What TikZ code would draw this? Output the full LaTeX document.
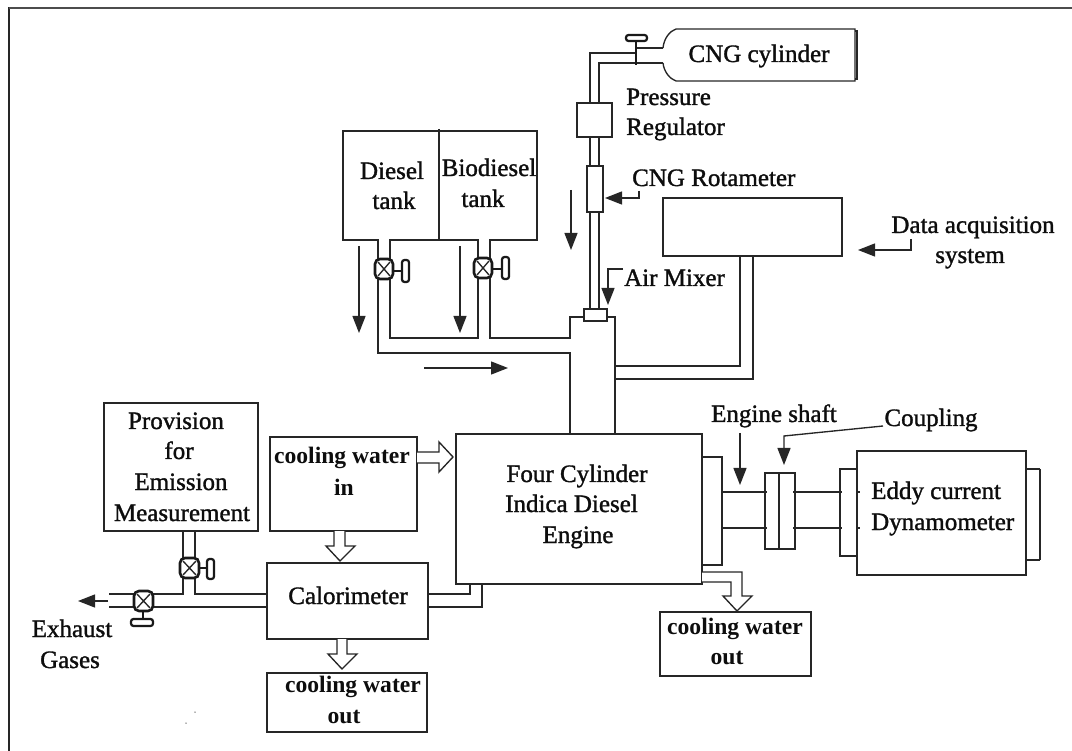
\documentclass[tikz,border=0pt]{standalone}
\usepackage{fontspec}
\setmainfont{Liberation Serif}
\newfontfamily\lblfont{Liberation Serif}[FakeBold=1.3]
\usetikzlibrary{arrows.meta}
\tikzset{
  x=1pt,y=-1pt,
  ln/.style={draw=black!85,line width=1.35pt},
  box/.style={ln,fill=white},
  lbl/.style={font=\lblfont\fontsize{25}{25}\selectfont,anchor=base,inner sep=0pt,text=black!95},
  lbll/.style={lbl,anchor=base west},
  blbl/.style={font=\bfseries\fontsize{23.6}{24}\selectfont,anchor=base,inner sep=0pt,text=black!95},
  arr/.style={ln,-{Triangle[length=17pt,width=13pt]}},
  vlv/.style={draw=black!90,line width=2.6pt,fill=white,rounded corners=5pt},
  hnd/.style={draw=black!90,line width=2.2pt,fill=white,rounded corners=2.5pt},
  stem/.style={draw=black!90,line width=2pt},
  hollow/.style={ln,fill=white,line join=miter},
  speck/.style={fill=black!60,draw=none,circle,inner sep=0pt,minimum size=1.5pt},
}
\begin{document}
\begin{tikzpicture}
\useasboundingbox (0,0) rectangle (1072,751);
% frame
\coordinate (fb) at (9,751); \coordinate (ftl) at (9,8); \coordinate (ftr) at (1072,8);
\draw[ln] (fb) -- (ftl) -- (ftr);
\draw[draw=black!70,line width=2pt] (ftl) -- (ftr);

% CNG cylinder and pipes
\draw[ln] (663,48) .. controls (664,38) and (670,31) .. (676,29) -- (855,29) -- (855,81) -- (676,81) .. controls (670,79) and (664,72) .. (663,63);
\draw[ln] (855,31) -- (857,31) -- (857,79) -- (855,79);
\node[lbl] (cng) at (759,62) {CNG cylinder};
\draw[ln] (663,48) -- (636,48);
\draw[ln] (636,53) -- (590,53) -- (590,103);
\draw[ln] (663,63) -- (599,63) -- (599,103);
\draw[stem] (636,40) -- (636,65);
\draw[hnd] (626,35) rectangle (647,41);
\node[box,minimum width=35pt,minimum height=34pt,inner sep=0pt] (reg) at (594.5,120) {};
\draw[ln] (590,137) -- (590,166) (599,137) -- (599,166);
\node[box,minimum width=16pt,minimum height=46pt,inner sep=0pt] (rot) at (595,189) {};
\draw[ln] (590,212) -- (590,309) (599,212) -- (599,309);
\node[lbll] (pr) at (626,105) {Pressure};
\node[lbll] (rg) at (626,135) {Regulator};
\node[lbll] (rt) at (632,186) {CNG Rotameter};
\coordinate (a1) at (639,191); \coordinate (a1e) at (605,198);
\draw[arr] (a1) |- (a1e);
\coordinate (a2) at (571,190); \coordinate (a2e) at (571,250);
\draw[arr] (a2) -- (a2e);

% mixer
\node[box,minimum width=23pt,minimum height=12pt,inner sep=0pt] (mix) at (595.5,315) {};
\node[lbll] (am) at (624,286) {Air Mixer};
\coordinate (a3) at (623,269); \coordinate (a3e) at (608,305);
\draw[arr] (a3) -| (a3e);

% data box
\node[box,minimum width=179pt,minimum height=58pt,inner sep=0pt] (data) at (752.5,227) {};
\node[lbl] (d1) at (973,233) {Data acquisition};
\node[lbl] (d2) at (970,263) {system};
\coordinate (a4) at (911,239); \coordinate (a4e) at (858,250);
\draw[arr] (a4) |- (a4e);
\draw[ln] (740,256) -- (740,366) -- (615,366);
\draw[ln] (753,256) -- (753,379) -- (615,379);

% tanks
\draw[ln] (343,131) rectangle (537,240);
\draw[ln] (439,129) -- (439,240);
\node[lbl] (t1) at (392,179) {Diesel};
\node[lbl] (t2) at (394,209) {tank};
\node[lbl] (t3) at (489,176) {Biodiesel};
\node[lbl] (t4) at (483,207) {tank};
\coordinate (a5) at (359,246); \coordinate (a5e) at (359,333);
\coordinate (a6) at (460,246); \coordinate (a6e) at (460,333);
\coordinate (a7) at (424,368); \coordinate (a7e) at (508,368);
\draw[arr] (a5) -- (a5e);
\draw[arr] (a6) -- (a6e);
\draw[arr] (a7) -- (a7e);

% fuel lines
\draw[white,line width=1.8pt] (379,240) -- (389,240) (479,240) -- (489,240);
\draw[ln] (378,240) -- (378,353) -- (570,353) -- (570,434);
\draw[ln] (390,240) -- (390,338) -- (478,338) -- (478,240);
\draw[ln] (490,240) -- (490,338) -- (570,338) -- (570,317) -- (584,317);
\draw[ln] (607,317) -- (615,317) -- (615,434);

% fuel valves
\draw[vlv] (375,259) rectangle (393,279);
\draw[ln] (375,259) ++(3,3) -- ++(12,14) (393,259) ++(-3,3) -- ++(-12,14);
\draw[stem] (393,271) -- (402,271);
\draw[hnd] (402,260) rectangle (409,282);
\draw[vlv] (474,258) rectangle (492,278);
\draw[ln] (474,258) ++(3,3) -- ++(12,14) (492,258) ++(-3,3) -- ++(-12,14);
\draw[stem] (492,269) -- (502,269);
\draw[hnd] (502,257) rectangle (509,279);

% engine
\node[box,minimum width=246pt,minimum height=150pt,inner sep=0pt] (eng) at (579,509) {};
\node[lbl] (e1) at (577,482) {Four Cylinder};
\node[lbll] (e2) at (505,512) {Indica Diesel};
\node[lbl] (e3) at (578,543) {Engine};
\draw[ln] (702,457) -- (722,457) -- (722,565) -- (702,565);

% shaft, coupling
\node[box,minimum width=30pt,minimum height=76pt,inner sep=0pt] (cpl) at (780,511) {};
\draw[ln] (779,473) -- (779,549);
\draw[ln] (722,492) -- (767,492) (722,528) -- (767,528);
\draw[ln] (793,492) -- (842,492) (793,528) -- (842,528);
\node[lbl] (es) at (774,422) {Engine shaft};
\node[lbl] (cp) at (931,426) {Coupling};
\coordinate (a8) at (740,433); \coordinate (a8e) at (740,485);
\draw[arr] (a8) -- (a8e);
\coordinate (a9) at (883,426); \coordinate (a9m) at (784,436); \coordinate (a9e) at (784,465);
\draw[arr] (a9) -- (a9m) -- (a9e);

% dynamometer
\draw[ln] (857,469) -- (840,469) -- (840,556) -- (857,556);
\draw[ln] (1026,469) -- (1040,469) (1026,560) -- (1040,560);
\draw[ln] (1040,469) -- (1040,560);
\node[box,minimum width=169pt,minimum height=124pt,inner sep=0pt] (dyn) at (941.5,513) {};
\draw[ln] (857,492) -- (860,492) (857,528) -- (860,528);
\node[lbll] (dy1) at (871,499) {Eddy current};
\node[lbll] (dy2) at (871,530) {Dynamometer};

% cooling water out right
\draw[hollow] (702,572) -- (742,572) -- (742,596) -- (752,596) -- (737,611) -- (723,596) -- (731,596) -- (731,582) -- (702,582);
\node[box,minimum width=151pt,minimum height=64pt,inner sep=0pt] (cwr) at (735.5,644) {};
\node[blbl] (cw1) at (735,634) {cooling water};
\node[blbl] (cw2) at (727,664) {out};

% cooling in
\node[box,minimum width=147pt,minimum height=94pt,inner sep=0pt] (cin) at (343.5,484) {};
\node[blbl] (ci1) at (342,464) {cooling water};
\node[blbl] (ci2) at (344,495) {in};
\draw[hollow] (417,452) -- (439,452) -- (439,442) -- (453,457) -- (439,472) -- (439,463) -- (417,463);
\draw[hollow] (334,531) -- (334,546) -- (326,546) -- (340,561) -- (355,546) -- (345,546) -- (345,531);

% calorimeter
\node[box,minimum width=161pt,minimum height=76pt,inner sep=0pt] (cal) at (347.5,601) {};
\node[lbl] (cl) at (348,604) {Calorimeter};
\draw[ln] (428,594) -- (470,594) -- (470,584);
\draw[ln] (428,607) -- (482,607) -- (482,584);
\draw[hollow] (337,639) -- (337,654) -- (328,654) -- (342,669) -- (357,654) -- (347,654) -- (347,639);
\node[box,minimum width=160pt,minimum height=59pt,inner sep=0pt] (cwb) at (347,702.5) {};
\node[blbl] (cb1) at (353,692) {cooling water};
\node[blbl] (cb2) at (344,723) {out};

% provision
\node[box,minimum width=154pt,minimum height=128pt,inner sep=0pt] (prv) at (181,467) {};
\node[lbl] (p1) at (176,429) {Provision};
\node[lbl] (p2) at (179,459) {for};
\node[lbl] (p3) at (181,490) {Emission};
\node[lbl] (p4) at (182,521) {Measurement};

% exhaust
\draw[ln] (183,531) -- (183,594) -- (109,594);
\draw[ln] (195,531) -- (195,594) -- (267,594);
\draw[ln] (109,607) -- (267,607);
\draw[vlv] (180,558) rectangle (199,578);
\draw[ln] (180,558) ++(3,3) -- ++(13,14) (199,558) ++(-3,3) -- ++(-13,14);
\draw[stem] (199,568) -- (207,568);
\draw[hnd] (207,559) rectangle (214,579);
\draw[vlv] (134,591) rectangle (153,611);
\draw[ln] (134,591) ++(3,3) -- ++(13,14) (153,591) ++(-3,3) -- ++(-13,14);
\draw[stem] (143,611) -- (143,619);
\draw[hnd] (131,619) rectangle (153,626);
\coordinate (a10) at (108,601); \coordinate (a10e) at (78,601);
\draw[arr] (a10) -- (a10e);
\node[lbl] (x1) at (72,637) {Exhaust};
\node[lbl] (x2) at (70,668) {Gases};
\node[speck] (s1) at (195,712) {};
\node[speck] (s2) at (186,723) {};
\end{tikzpicture}
\end{document}
